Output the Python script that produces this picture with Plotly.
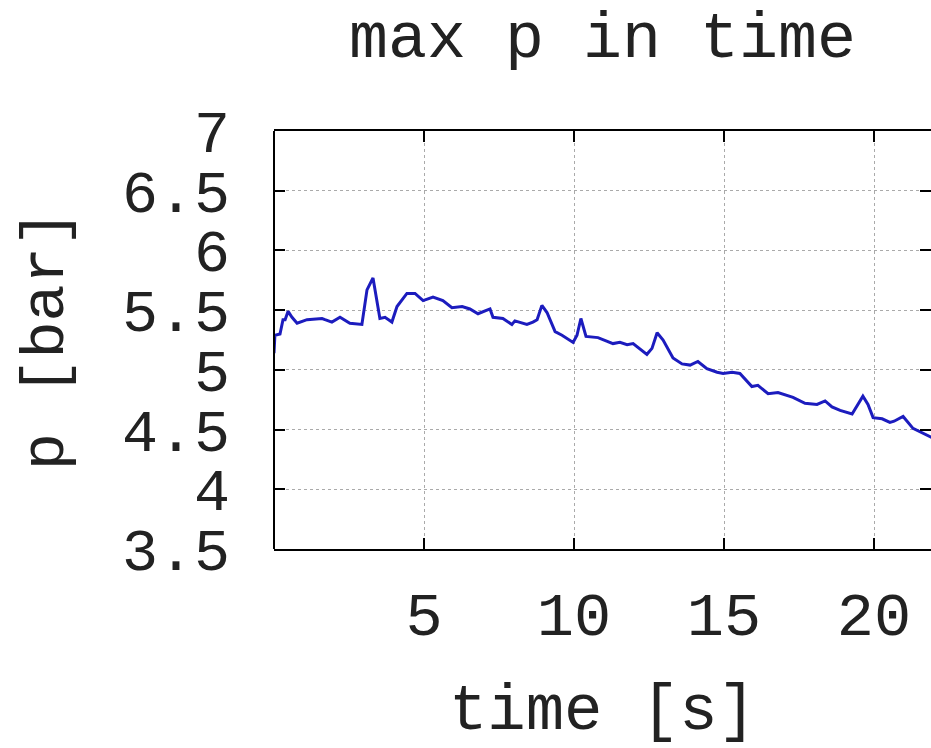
import plotly.graph_objects as go

time_s = [0, 0.03, 0.2, 0.3, 0.37, 0.47, 0.6, 0.77, 1.1, 1.6, 1.7, 1.93, 2.2, 2.53, 2.93,
          3.1, 3.3, 3.53, 3.7, 3.93, 4.1, 4.43, 4.7, 4.97, 5.3, 5.63, 5.93, 6.27, 6.53, 6.8,
          7.2, 7.3, 7.63, 7.93, 8.03, 8.43, 8.63, 8.77, 8.93, 9.1, 9.37, 9.6, 9.97, 10.1,
          10.23, 10.4, 10.8, 11.3, 11.53, 11.77, 11.97, 12.43, 12.6, 12.77, 12.97, 13.3,
          13.6, 13.87, 14.13, 14.43, 14.77, 14.97, 15.27, 15.53, 15.93, 16.13, 16.47, 16.8,
          17.3, 17.7, 18.1, 18.37, 18.6, 18.87, 19.27, 19.47, 19.63, 19.8, 19.97, 20.27,
          20.53, 20.67, 20.97, 21.3, 21.63, 21.9, 22.2]
p_bar = [5.14, 5.29, 5.30, 5.42, 5.42, 5.49, 5.44, 5.39, 5.42, 5.43, 5.42, 5.40, 5.44, 5.39, 5.38,
         5.67, 5.77, 5.43, 5.44, 5.40, 5.53, 5.64, 5.64, 5.58, 5.61, 5.58, 5.52, 5.53, 5.51, 5.47,
         5.51, 5.44, 5.43, 5.38, 5.41, 5.38, 5.40, 5.42, 5.54, 5.48, 5.32, 5.29, 5.23, 5.29,
         5.43, 5.28, 5.27, 5.22, 5.23, 5.21, 5.22, 5.13, 5.18, 5.31, 5.25, 5.10,
         5.05, 5.04, 5.07, 5.01, 4.98, 4.97, 4.98, 4.97, 4.86, 4.87, 4.80, 4.81,
         4.77, 4.72, 4.71, 4.74, 4.69, 4.66, 4.63, 4.71, 4.78, 4.71, 4.60, 4.59,
         4.56, 4.57, 4.61, 4.51, 4.47, 4.44, 4.40]

x_ticks = [5, 10, 15, 20]
y_ticks = [3.5, 4, 4.5, 5, 5.5, 6, 6.5, 7]
y_labels = ["3.5", "4", "4.5", "5", "5.5", "6", "6.5", "7"]

FONT = "Liberation Mono, Courier New, monospace"
FS = 62
TXT = "#222222"

fig = go.Figure()
fig.add_trace(go.Scatter(x=time_s, y=p_bar, mode="lines",
                         line=dict(color="#1c1cbe", width=3), showlegend=False))

fig.update_layout(
    width=931, height=748,
    margin=dict(l=274, r=0, t=131, b=199),
    paper_bgcolor="white", plot_bgcolor="white",
    font=dict(family=FONT, size=FS, color=TXT),
    title=dict(text="max p in time", x=0.5, xref="paper", y=1 - 34 / 748,
               yref="container", xanchor="center", yanchor="middle",
               font=dict(family=FONT, size=65, color=TXT)),
)
fig.update_xaxes(
    range=[0, 21.9], tickvals=x_ticks, ticktext=[str(v) for v in x_ticks],
    ticks="inside", ticklen=11, tickwidth=1.5, tickcolor="black",
    showline=True, linecolor="black", linewidth=2, mirror="ticks",
    showgrid=True, gridcolor="#aaaaaa", griddash="dot", gridwidth=1,
    zeroline=False, ticklabelstandoff=10, automargin=False,
    title=dict(text="time [s]", standoff=53, font=dict(family=FONT, size=64)),
)
fig.update_yaxes(
    range=[3.5, 7], tickvals=y_ticks, ticktext=y_labels,
    tickfont=dict(family=FONT, size=60, color=TXT),
    ticks="inside", ticklen=11, tickwidth=1.5, tickcolor="black",
    showline=False, mirror="ticks",
    showgrid=True, gridcolor="#aaaaaa", griddash="dot", gridwidth=1,
    zeroline=False, ticklabelstandoff=43, automargin=False,
    title=dict(text="p [bar]", standoff=38, font=dict(family=FONT, size=FS)),
)
fig.add_shape(type="line", xref="paper", yref="paper", x0=0, x1=0, y0=0, y1=1,
              line=dict(color="black", width=2))

fig.write_html("out.html")
